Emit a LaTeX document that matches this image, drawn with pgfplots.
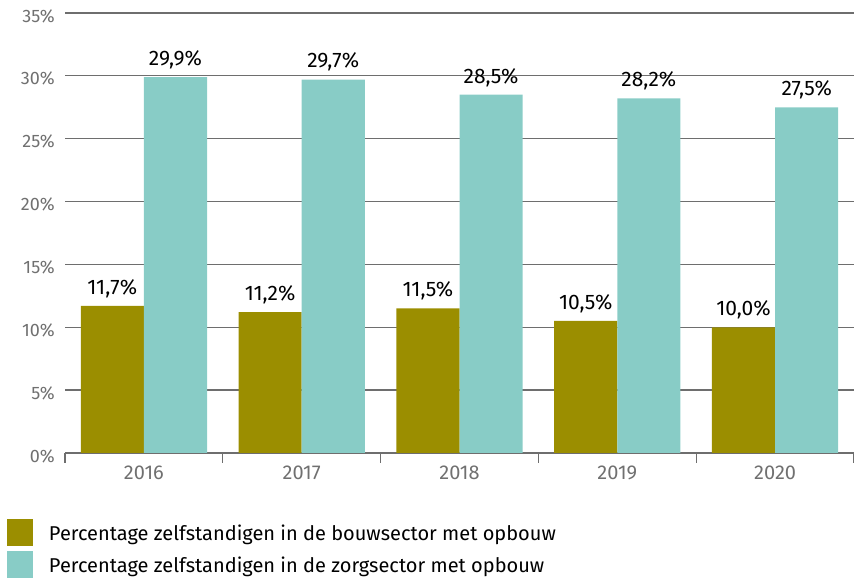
\documentclass[border=0pt]{standalone}
\usepackage{pgfplots}
\pgfplotsset{compat=1.18}
\usepackage{fontspec}
\setmainfont{Fira Sans}
\definecolor{olivebar}{HTML}{9B8E00}
\definecolor{tealbar}{HTML}{88CCC6}
\definecolor{axgray}{HTML}{6E6E6E}
\definecolor{lblgray}{HTML}{707070}
\begin{document}
\begin{tikzpicture}[x=1bp,y=1bp]
\useasboundingbox (0,0) rectangle (854,579);
\begin{axis}[
  at={(65bp,126bp)}, anchor=south west,
  scale only axis, width=789bp, height=440bp,
  xmin=-0.5, xmax=4.5, ymin=0, ymax=35,
  ybar=0pt, bar width=0.4,
  /pgf/number format/assume math mode=true,
  axis x line*=bottom, axis y line*=left,
  y axis line style={draw=none},
  x axis line style={axgray, line width=1.3bp},
  ymajorgrids, grid style={axgray, line width=1.3bp},
  ytick={0,5,...,35},
  yticklabel={\pgfmathprintnumber{\tick}\%},
  y tick label style={font=\fontsize{18bp}{21bp}\selectfont, text=lblgray, anchor=east, inner sep=0pt, xshift=-10bp, yshift=-3bp},
  ytick style={draw=none},
  xtick={0,1,2,3,4},
  xticklabels={2016,2017,2018,2019,2020},
  x tick label style={font=\fontsize{20bp}{23bp}\selectfont, text=lblgray, anchor=north, inner sep=0pt, yshift=-13bp},
  major tick length=0pt,
  minor xtick={-0.5,0.5,...,4.5},
  minor tick length=10bp,
  tick align=outside,
  xtick style={axgray, line width=1.3bp},
  minor x tick style={axgray, line width=1.3bp},
  clip=false,
  nodes near coords={\pgfmathprintnumber[fixed,fixed zerofill,precision=1,use comma]{\pgfplotspointmeta}\%},
  every node near coord/.append style={font=\fontsize{21bp}{24bp}\selectfont, text=black, anchor=south, inner sep=0pt, yshift=8bp},
  legend style={at={(axis description cs:0,0)}, anchor=north west, xshift=-58bp, yshift=-66bp,
    draw=none, fill=none, inner sep=0pt, outer sep=0pt, row sep=5.5bp,
    font=\fontsize{20bp}{23bp}\selectfont, text=black,
    /tikz/every odd column/.append style={column sep=14bp}},
  legend cell align=left,
]
\addplot[fill=olivebar, draw=none,
  legend image code/.code={\fill[olivebar] (0bp,-13bp) rectangle (26bp,14bp);}]
  coordinates {(0,11.7) (1,11.2) (2,11.5) (3,10.5) (4,10.0)};
\addlegendentry{Percentage zelfstandigen in de bouwsector met opbouw}
\addplot[fill=tealbar, draw=none,
  legend image code/.code={\fill[tealbar] (0bp,-13bp) rectangle (26bp,14bp);}]
  coordinates {(0,29.9) (1,29.7) (2,28.5) (3,28.2) (4,27.5)};
\addlegendentry{Percentage zelfstandigen in de zorgsector met opbouw}
\end{axis}
\end{tikzpicture}
\end{document}
